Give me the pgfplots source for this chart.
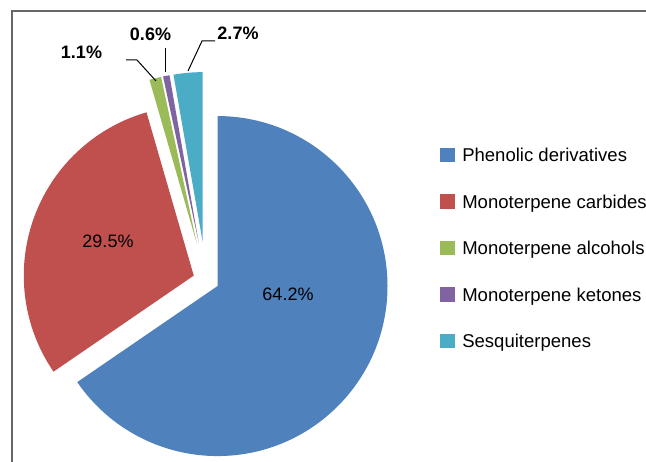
\documentclass[border=0pt]{standalone}
\usepackage{pgfplots}
\usepackage{pgfplotstable}
\pgfplotsset{compat=1.18}
\usepackage{fontspec}
\setmainfont{Liberation Sans}
\definecolor{cBlue}{HTML}{4F81BD}
\definecolor{cRed}{HTML}{C0504D}
\definecolor{cGreen}{HTML}{9BBB59}
\definecolor{cPurple}{HTML}{8064A2}
\definecolor{cCyan}{HTML}{4BACC6}
\definecolor{frame}{HTML}{666666}

% value (shown as %), explosion (px), colour, legend label
\pgfplotstableread[col sep=comma]{
name,value,explode,color
Phenolic derivatives,64.2,13,cBlue
Monoterpene carbides,29.5,13,cRed
Monoterpene alcohols,1.1,38,cGreen
Monoterpene ketones,0.6,38,cPurple
Sesquiterpenes,2.7,38,cCyan
}\piedata

\begin{document}
\begin{tikzpicture}
\useasboundingbox (0,0) rectangle (484.5pt,345.75pt);
\clip (0,0) rectangle (484.5pt,345.75pt);
\begin{axis}[
  scale only axis, width=484.5pt, height=345.75pt,
  xmin=0, xmax=646, ymin=0, ymax=461,
  hide axis, clip=false,
]
% frame
\draw[frame, line width=1.1pt] (axis cs:12,-5) -- (axis cs:12,450) -- (axis cs:660,450);

% total
\def\total{0}
\pgfplotsforeachungrouped \i in {0,...,4}{%
  \pgfplotstablegetelem{\i}{value}\of\piedata
  \pgfmathsetmacro{\total}{\total+\pgfplotsretval}%
}
\def\cx{206}\def\cy{181}\def\R{127.5pt}
\def\cum{0}
\pgfplotsforeachungrouped \i in {0,...,4}{%
  \pgfplotstablegetelem{\i}{value}\of\piedata \let\sval\pgfplotsretval
  \pgfplotstablegetelem{\i}{explode}\of\piedata \let\sex\pgfplotsretval
  \pgfplotstablegetelem{\i}{color}\of\piedata \let\scol\pgfplotsretval
  \pgfmathsetmacro{\sa}{90-360*(\cum/\total)}%
  \pgfmathsetmacro{\sb}{90-360*((\cum+\sval)/\total)}%
  \pgfmathsetmacro{\sm}{(\sa+\sb)/2}%
  \pgfmathsetmacro{\svx}{\cx+\sex*cos(\sm)}%
  \pgfmathsetmacro{\svy}{\cy+\sex*sin(\sm)}%
  \edef\temp{\noexpand\fill[\scol] (axis cs:\svx,\svy) -- ++(\sa:\R) arc[start angle=\sa, end angle=\sb, radius=\R] -- cycle;}%
  \temp
  \pgfmathsetmacro{\cum}{\cum+\sval}%
  % legend
  \pgfplotstablegetelem{\i}{name}\of\piedata \let\snm\pgfplotsretval
  \pgfmathsetmacro{\ly}{306-46.5*\i}%
  \edef\temp{\noexpand\fill[\scol] (axis cs:440,\ly) ++(0,-5.4pt) rectangle ++(11.25pt,10.8pt);
    \noexpand\node[anchor=west, inner sep=0pt, text height=10pt, text depth=0pt, font=\noexpand\fontsize{13.9}{16}\noexpand\selectfont] at (axis cs:462,\ly) {\snm};}%
  \temp
}

% data labels
\node[font=\fontsize{13.5}{16}\selectfont] at (axis cs:288,167) {64.2\%};
\node[font=\fontsize{13.5}{16}\selectfont] at (axis cs:108,220) {29.5\%};
\node[font=\fontsize{13.5}{16}\selectfont\bfseries] at (axis cs:81.5,409) {1.1\%};
\node[font=\fontsize{13.5}{16}\selectfont\bfseries] at (axis cs:150.5,427) {0.6\%};
\node[font=\fontsize{13.5}{16}\selectfont\bfseries] at (axis cs:238,428) {2.7\%};
% leader lines
\draw[black, line width=0.75pt] (axis cs:126,401) -- (axis cs:137,401) -- (axis cs:156,380);
\draw[black, line width=0.75pt] (axis cs:165,413) -- (axis cs:165,389);
\draw[black, line width=0.75pt] (axis cs:215,420) -- (axis cs:202,420) -- (axis cs:188,390);
\end{axis}
\end{tikzpicture}
\end{document}
